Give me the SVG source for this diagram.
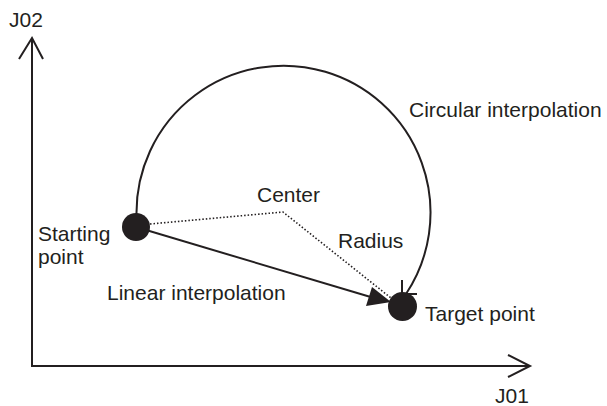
<svg xmlns="http://www.w3.org/2000/svg" width="607" height="406" viewBox="0 0 607 406">
<style>
text{font-family:"Liberation Sans",Arial,sans-serif;font-size:21px;fill:#231f20}
.ln{fill:none;stroke:#231f20;stroke-width:2}
.dot{fill:none;stroke:#231f20;stroke-width:1.6;stroke-dasharray:1.5 2}
.pt{fill:#231f20}
</style>
<rect width="607" height="406" fill="#fff"/>
<g id="axes">
<path class="ln" d="M32,39 L32,366 L530,366"/>
<path class="ln" d="M19,59 L32,38 L43,59"/>
<path class="ln" d="M508,355 L530,366 L508,377"/>
<text x="9" y="27">J02</text>
<text x="495" y="403">J01</text>
</g>
<g id="connectors">
<path class="ln" d="M136.5,214 A147,147 0 1 1 406,294"/>
<path class="ln" d="M402,280 L402,294 L417,294"/>
<path class="dot" d="M150,224 L283,212 L391,298"/>
<line class="ln" x1="136" y1="227" x2="374" y2="298"/>
<polygon class="pt" points="391,302 372,287 366,306"/>
</g>
<g id="start">
<circle class="pt" cx="136" cy="227" r="14"/>
<text x="38" y="241">Starting</text>
<text x="38" y="264">point</text>
</g>
<g id="target">
<circle class="pt" cx="402.5" cy="306.5" r="14.5"/>
<text x="425" y="321">Target point</text>
</g>
<g id="center">
<text x="257" y="202">Center</text>
</g>
<g id="labels">
<text x="338" y="248">Radius</text>
<text x="107" y="300">Linear interpolation</text>
<text x="409" y="117">Circular interpolation</text>
</g>
</svg>
